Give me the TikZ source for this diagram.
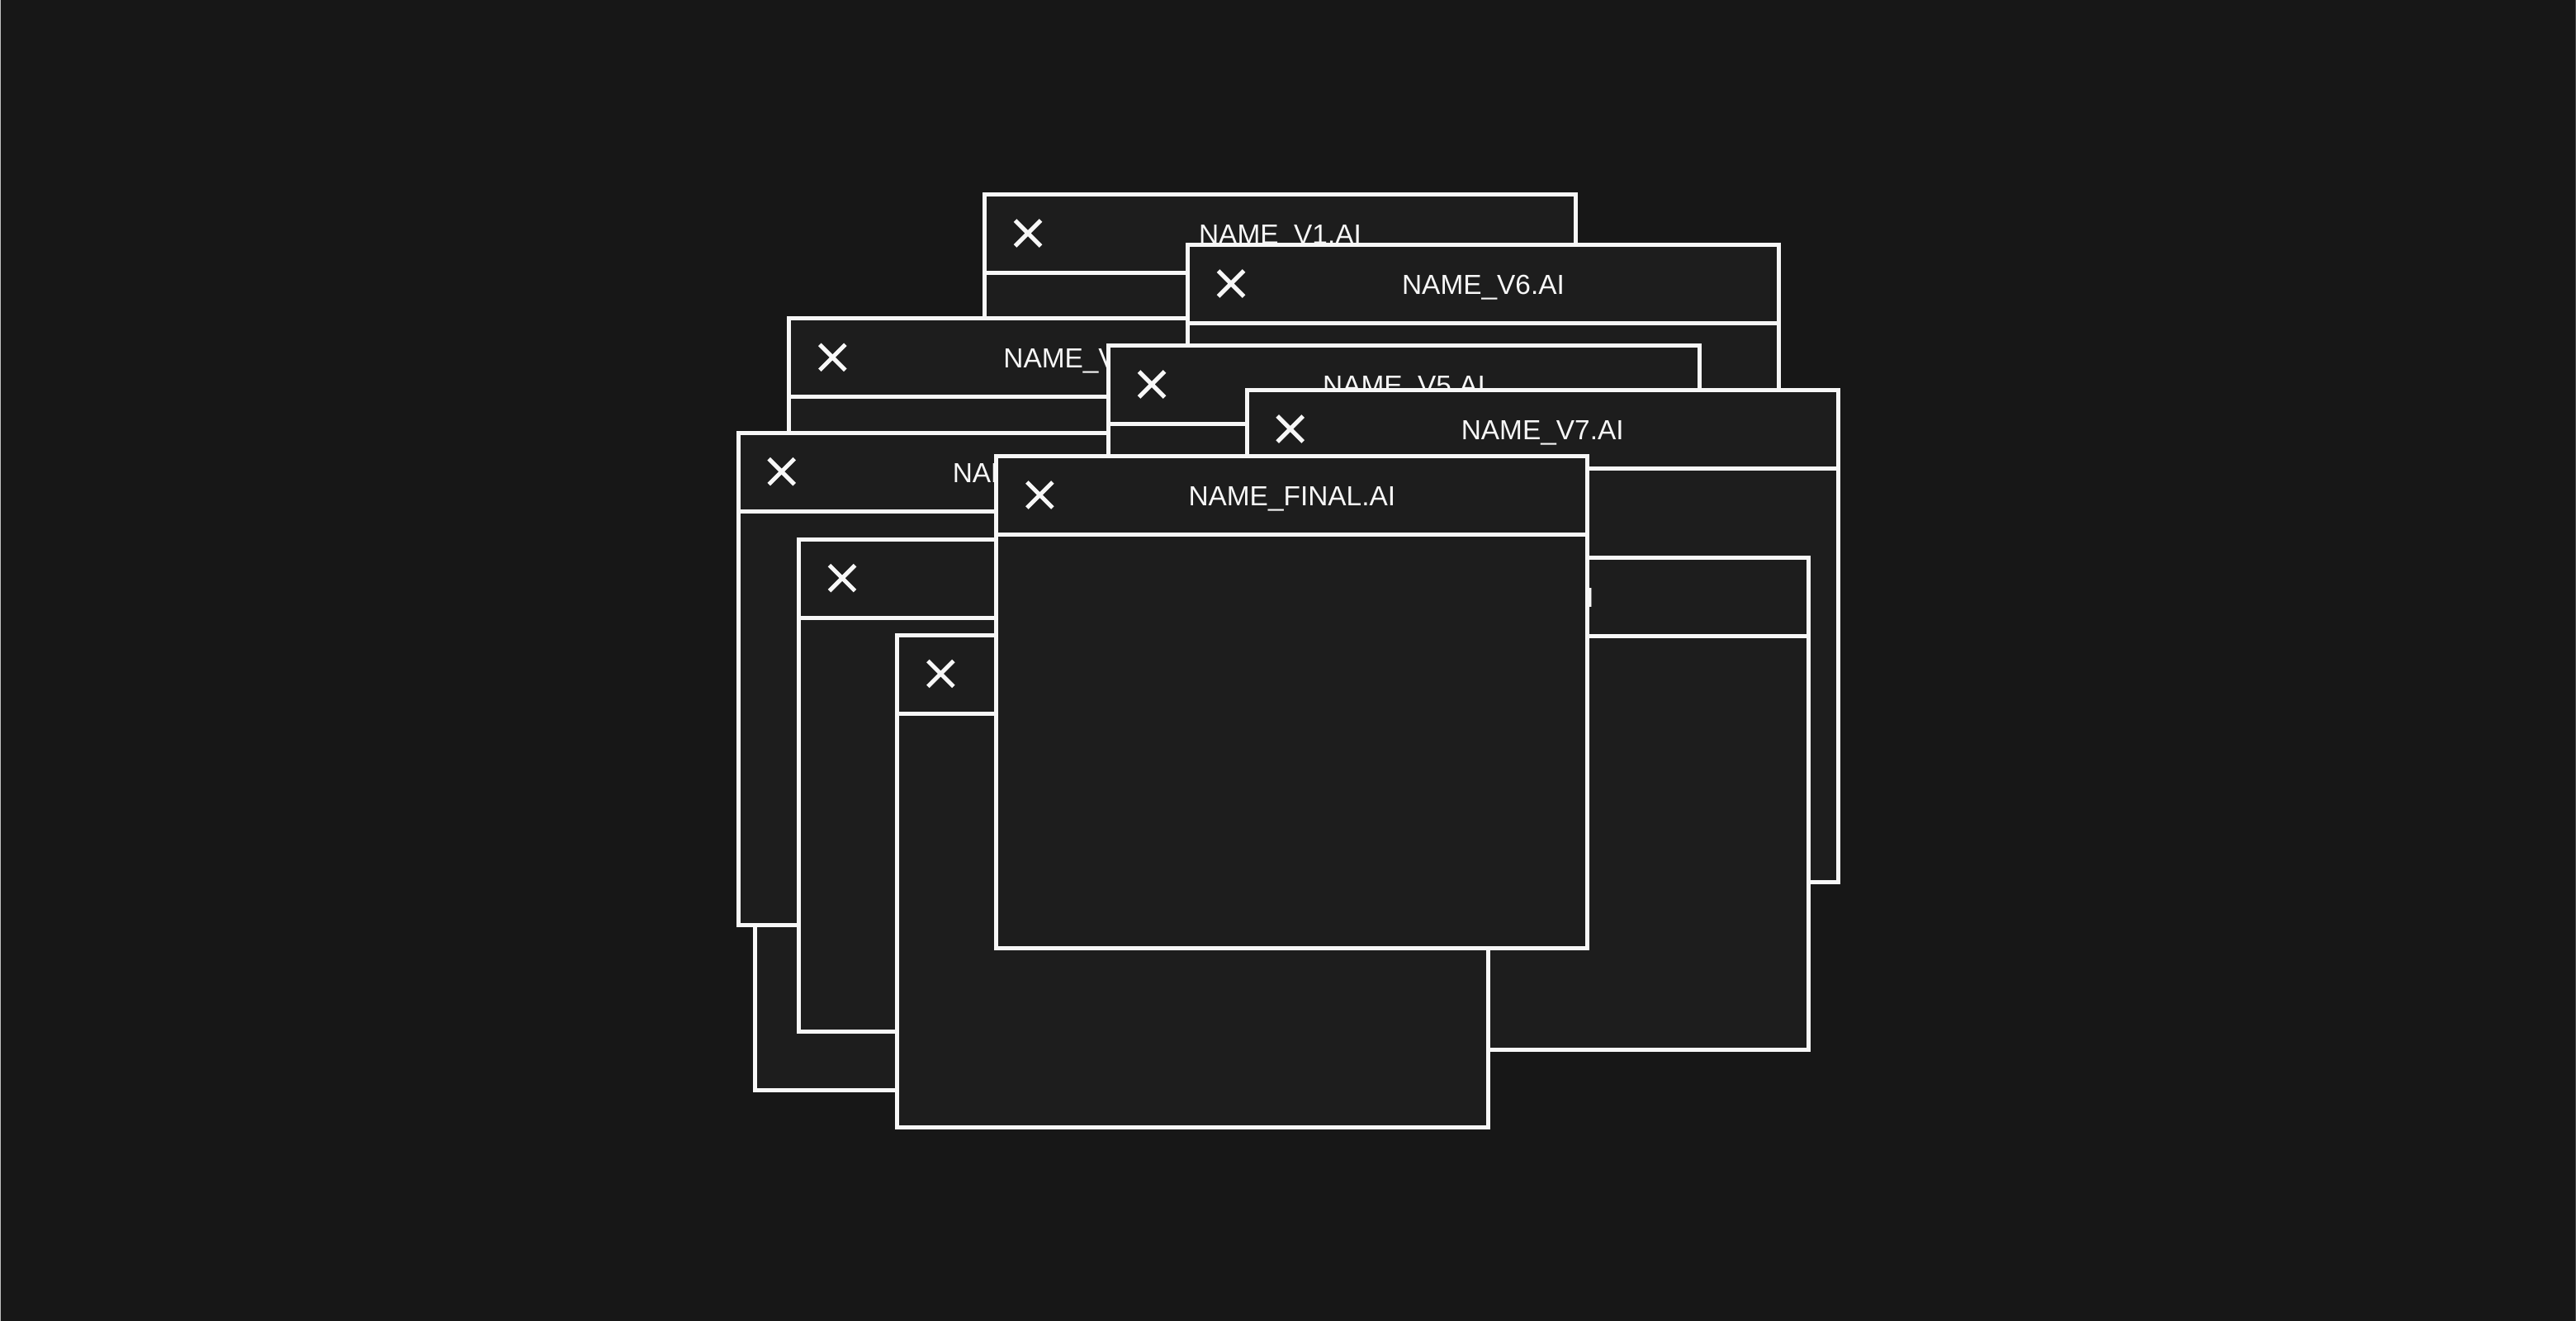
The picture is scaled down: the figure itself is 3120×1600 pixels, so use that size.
\documentclass[tikz,border=0pt]{standalone}
\usepackage{fontspec}
\setmainfont{Liberation Sans}
\definecolor{bgcol}{HTML}{171717}
\definecolor{winfill}{HTML}{1D1D1D}
\definecolor{edgecol}{HTML}{F7F7F7}
\tikzset{
  winframe/.style={draw=edgecol, fill=winfill, line width=0.05cm, line join=miter},
  winline/.style={draw=edgecol, line width=0.05cm},
  closeicon/.style={draw=edgecol, line width=0.05cm, line cap=butt},
  wintitle/.style={anchor=base, inner sep=0pt, text=edgecol, font=\fontsize{9.5pt}{11pt}\selectfont}
}
\newcommand\drawwin[4]{%
  \begin{scope}[shift={(#2,#3)}]
    \filldraw[winframe] (2.5,2.5) rectangle (718.5,598.5);
    \draw[winline] (2.5,97.5) -- (718.5,97.5);
    \draw[closeicon] (39.5,34) -- (70.5,65) (39.5,65) -- (70.5,34);
    \if\relax\detokenize{#4}\relax
      \coordinate (#1) at (360.5,50);
    \else
      \node[wintitle] (#1) at (360.5,62.3) {#4};
    \fi
  \end{scope}}
\begin{document}
\begin{tikzpicture}[x=0.01cm, y=-0.01cm]
  \useasboundingbox (0,0) rectangle (3120,1600);
  \fill[bgcol] (0,0) rectangle (3120,1600);
  \draw[line width=0.01cm, color=black!25] (0.5,0) -- (0.5,1600);
  \draw[line width=0.01cm, color=black!70] (3119.5,0) -- (3119.5,1600);
  % back to front
  \drawwin{v1}{1190}{233}{NAME\_V1.AI}
  \drawwin{v2}{953.3}{383.3}{NAME\_V2.AI}
  \drawwin{wk}{912.3}{721.7}{}
  \drawwin{v3}{891.7}{521.7}{NAME\_V3.AI}
  \drawwin{v6}{1436}{294}{NAME\_V6.AI}
  \drawwin{v5}{1340}{416}{NAME\_V5.AI}
  \drawwin{v7}{1507.7}{470}{NAME\_V7.AI}
  \drawwin{v8}{1471.7}{673}{NAME\_V8.AI}
  \drawwin{wg}{965}{650.7}{}
  \drawwin{wh}{1084.3}{766.5}{}
  \drawwin{final}{1204.3}{550}{NAME\_FINAL.AI}
\end{tikzpicture}
\end{document}
